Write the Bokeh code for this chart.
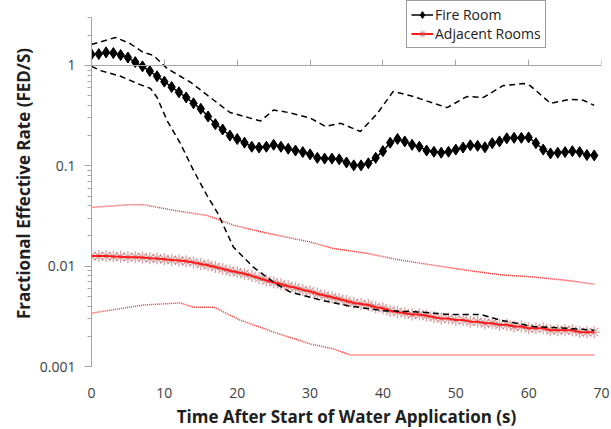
from bokeh.plotting import figure
from bokeh.models import (Range1d, LinearAxis, LogTicker, FixedTicker, CustomJSTickFormatter,
                          Legend, LegendItem, ColumnDataSource, Title)
from bokeh.embed import file_html
from bokeh.resources import INLINE

# ---- data ----
t_mean = list(range(70))
fire_mean = [1.29, 1.30, 1.35, 1.33, 1.27, 1.20, 1.08, 0.98, 0.88, 0.78,
             0.69, 0.61, 0.54, 0.48, 0.42, 0.37, 0.31, 0.26, 0.23, 0.20,
             0.185, 0.17, 0.155, 0.152, 0.155, 0.162, 0.155, 0.148, 0.142, 0.137,
             0.13, 0.12, 0.118, 0.118, 0.116, 0.108, 0.101, 0.101, 0.106, 0.12,
             0.14, 0.17, 0.185, 0.175, 0.162, 0.155, 0.142, 0.138, 0.135, 0.138,
             0.145, 0.152, 0.16, 0.158, 0.153, 0.168, 0.175, 0.188, 0.19, 0.19,
             0.192, 0.168, 0.145, 0.133, 0.135, 0.137, 0.14, 0.137, 0.128, 0.127]
adj_mean = [.0126, .0126, .0126, .0125, .0124, .0123, .0123, .0122, .0120, .0119,
            .0117, .0115, .0114, .0112, .0109, .0105, .0102, .0098, .0094, .0090,
            .0087, .0084, .0080, .0076, .0072, .0069, .0066, .0063, .0061, .0058,
            .0056, .0053, .0051, .0049, .0047, .0045, .0043, .0042, .0041, .0039,
            .0038, .0036, .0035, .0034, .0033, .0033, .0032, .0031, .0030, .0030,
            .0029, .0029, .0028, .0028, .0027, .0027, .0026, .0026, .0025, .0025,
            .0024, .0024, .0024, .0023, .0023, .0023, .0023, .0022, .0022, .0022]

t_fire_hi = [0, 3.3, 5.3, 7.1, 8.5, 10.4, 13.6, 16.8, 19, 21, 23.2, 25, 27, 30, 32.1, 34.2,
             36.9, 39.2, 41.4, 43.8, 47, 48.8, 51.5, 53.8, 56.5, 59.3, 60.2, 63, 65.7, 67.5, 69]
fire_hi = [1.62, 1.9, 1.65, 1.35, 1.26, 0.93, 0.68, 0.45, 0.34, 0.31, 0.28, 0.36, 0.34, 0.30,
           0.247, 0.265, 0.22, 0.33, 0.55, 0.50, 0.42, 0.38, 0.49, 0.48, 0.63, 0.66, 0.63,
           0.42, 0.46, 0.45, 0.40]
t_fire_lo = [0, 1.2, 4, 6.3, 8.1, 9, 10.4, 12.2, 14, 15.9, 17.3, 19.5, 22.2, 25, 27.3, 30,
             31.4, 35.5, 40, 44.7, 49.2, 53.4, 56.1, 60.6, 65.3, 69]
fire_lo = [0.98, 0.89, 0.78, 0.66, 0.59, 0.48, 0.28, 0.167, 0.09, 0.05, 0.034, 0.0154, 0.0098,
           0.0069, 0.0055, 0.0049, 0.0046, 0.0040, 0.0036, 0.0035, 0.0033, 0.0033, 0.0029,
           0.0025, 0.0024, 0.0023]
t_adj_hi = [0, 5.3, 7.1, 11.3, 15.9, 19.5, 24.1, 30, 33.2, 37.8, 42.4, 47, 51.5, 56.1, 60.6, 65.3, 69]
adj_hi = [0.0385, 0.041, 0.041, 0.036, 0.032, 0.0256, 0.0213, 0.0174, 0.015, 0.0134, 0.0115,
          0.0102, 0.0091, 0.0082, 0.0078, 0.0072, 0.0066]
t_adj_lo = [0, 7.1, 12.2, 14, 16.8, 20.4, 25, 30, 33.2, 35.5, 69]
adj_lo = [0.0034, 0.0041, 0.0043, 0.0039, 0.0039, 0.0029, 0.0022, 0.00168, 0.0015, 0.0013, 0.0013]

x_ticks = [0, 10, 20, 30, 40, 50, 60, 70]
y_axis_min, y_axis_max = 0.001, 3

FONT = "Open Sans"

p = figure(frame_width=510, frame_height=366, output_backend="svg", toolbar_location=None,
           y_axis_type="log", x_range=Range1d(0, 70), y_range=Range1d(0.001, 4.44),
           min_border_left=91, min_border_right=10, min_border_top=0, min_border_bottom=0)
p.outline_line_color = None
p.grid.visible = False
p.background_fill_color = "white"

# bottom axis: labels only
xa = p.xaxis[0]
xa.ticker = FixedTicker(ticks=x_ticks)
xa.axis_line_color = None
xa.major_tick_line_color = None
xa.minor_tick_line_color = None
xa.major_tick_out = 0
xa.major_tick_in = 0
xa.major_label_standoff = 21
xa.major_label_text_font = FONT
xa.major_label_text_font_size = "14px"
xa.major_label_text_color = "#404040"
xa.axis_label = "Time After Start of Water Application (s)"
xa.axis_label_text_font = FONT
xa.axis_label_text_font_style = "bold"
xa.axis_label_text_font_size = "17px"
xa.axis_label_text_color = "#202020"
xa.axis_label_standoff = 4

# axis line crossing at y = 1
xcross = LinearAxis(fixed_location=1, ticker=FixedTicker(ticks=x_ticks),
                    formatter=CustomJSTickFormatter(code="return '';"),
                    axis_line_color="#a6a6a6", major_tick_line_color="#a6a6a6",
                    major_tick_in=6, major_tick_out=0, minor_tick_line_color=None,
                    major_label_standoff=0)
p.add_layout(xcross, "below")

ya = p.yaxis[0]
ya.bounds = (y_axis_min, y_axis_max)
ya.ticker = LogTicker(mantissas=[1], num_minor_ticks=10)
ya.formatter = CustomJSTickFormatter(code="return String(Number(tick.toPrecision(3)));")
ya.axis_line_color = "#a6a6a6"
ya.major_tick_line_color = "#a6a6a6"
ya.minor_tick_line_color = "#a6a6a6"
ya.major_tick_out = 7
ya.major_tick_in = 0
ya.minor_tick_out = 4
ya.minor_tick_in = 0
ya.major_label_standoff = 9
ya.major_label_text_font = FONT
ya.major_label_text_font_size = "14px"
ya.major_label_text_color = "#404040"

ytitle = Title(text="Fractional Effective Rate (FED/S)", align="center", offset=-9,
               text_font=FONT, text_font_style="bold", text_font_size="17px",
               text_color="#202020", standoff=4)
p.add_layout(ytitle, "left")

# adjacent rooms
p.line(t_adj_hi, adj_hi, line_color="#ff3030", line_width=1.5, line_dash="1 1")
p.line(t_adj_lo, adj_lo, line_color="#ff3030", line_width=1.5, line_dash="1 1")
adj_src = ColumnDataSource(dict(t=t_mean, v=adj_mean))
adj_sc = p.scatter("t", "v", source=adj_src, marker="asterisk", size=12,
                   line_color="#b85858", line_alpha=0.55, line_width=1.3)
adj_ln = p.line("t", "v", source=adj_src, line_color="#ff1a1a", line_width=2)

# fire room
p.line(t_fire_hi, fire_hi, line_color="black", line_width=1.5, line_dash="6 4")
p.line(t_fire_lo, fire_lo, line_color="black", line_width=1.5, line_dash="6 4")
fire_src = ColumnDataSource(dict(t=t_mean, v=fire_mean))
fire_ln = p.line("t", "v", source=fire_src, line_color="black", line_width=1.5)
fire_sc = p.scatter("t", "v", source=fire_src, marker="diamond", size=11,
                    fill_color="black", line_color="black")

legend = Legend(items=[LegendItem(label="Fire Room", renderers=[fire_ln, fire_sc]),
                       LegendItem(label="Adjacent Rooms", renderers=[adj_ln, adj_sc])],
                location=(315, 318))
legend.label_text_font = FONT
legend.label_text_font_size = "14px"
legend.label_text_color = "#202020"
legend.border_line_color = "#404040"
legend.border_line_width = 1
legend.background_fill_color = "white"
legend.glyph_width = 22
legend.glyph_height = 17
legend.label_standoff = 2
legend.label_height = 17
legend.padding = 4
legend.spacing = 0
legend.margin = 0
p.add_layout(legend, "center")

open("out.html", "w").write(file_html(p, INLINE))
